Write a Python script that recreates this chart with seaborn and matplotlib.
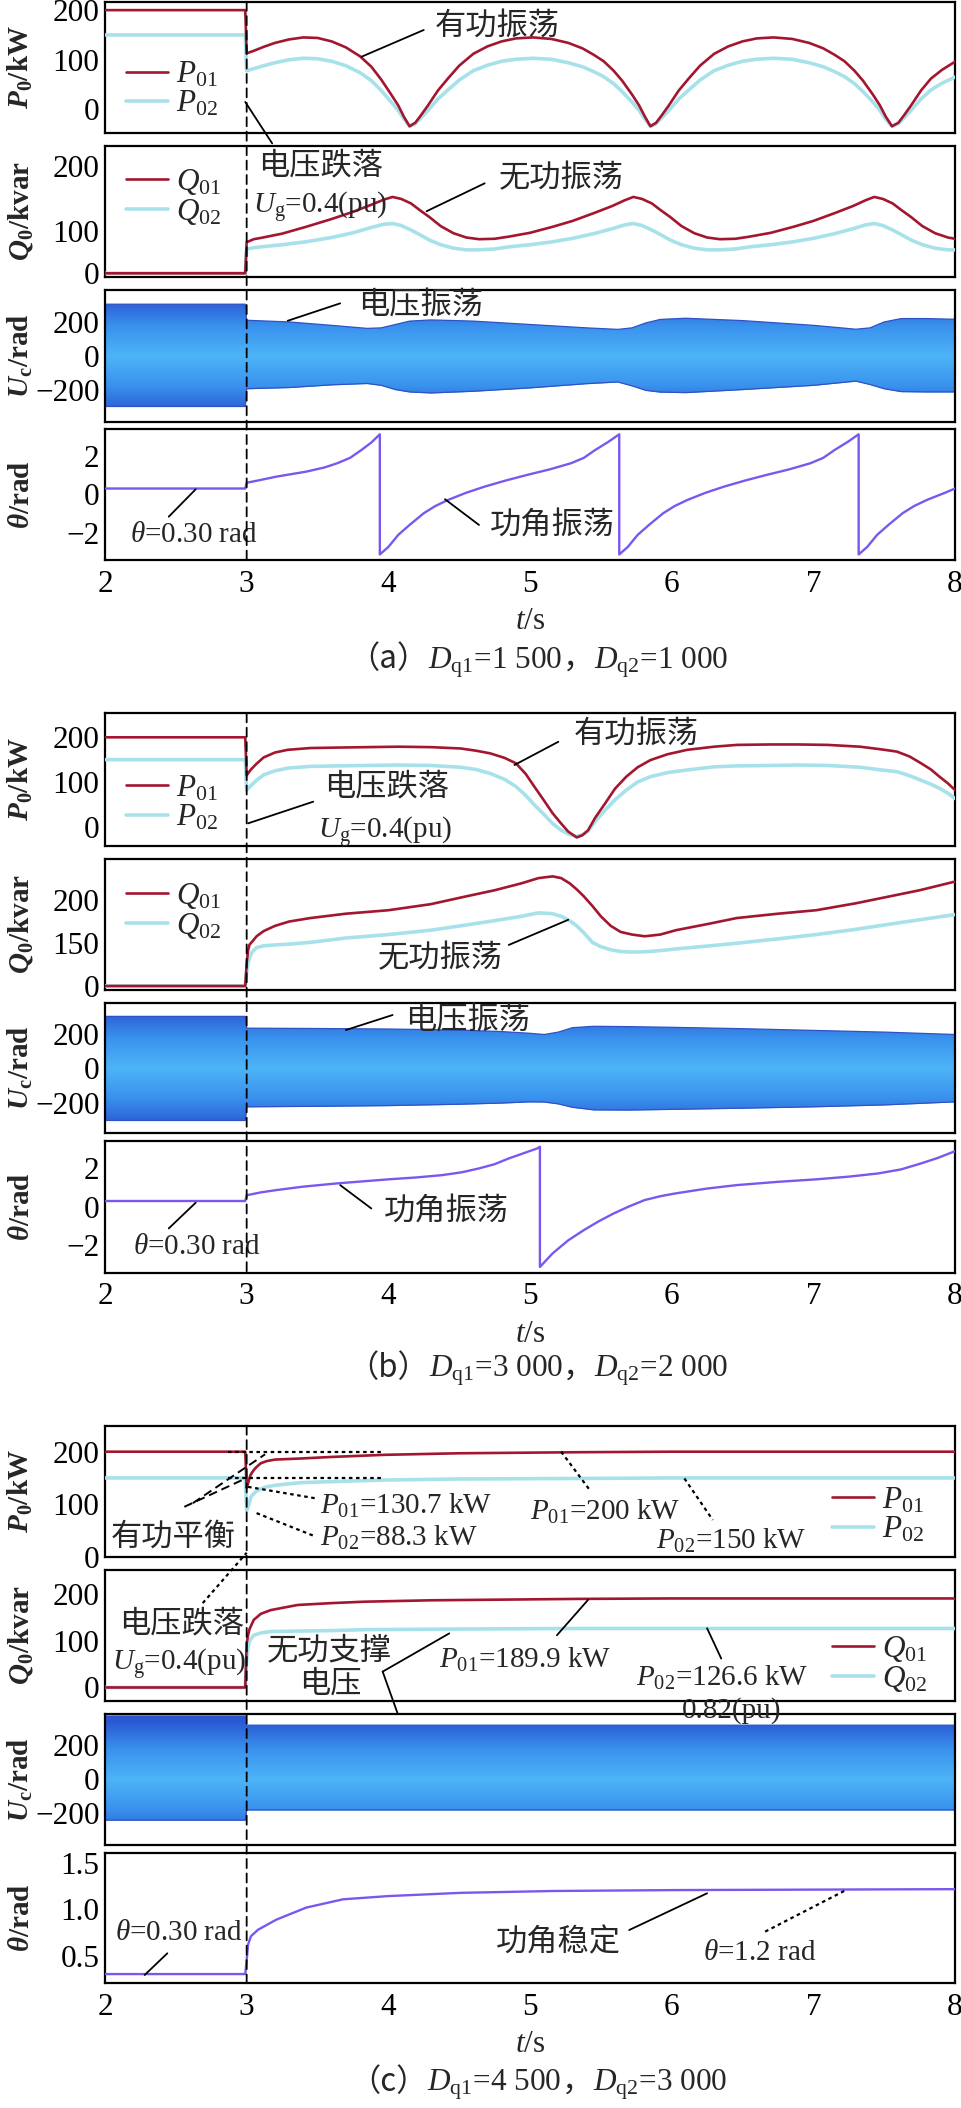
import numpy as np
import matplotlib
matplotlib.use("Agg")
import matplotlib.pyplot as plt
import seaborn as sns
from matplotlib.colors import LinearSegmentedColormap
from matplotlib.patches import ConnectionPatch

# ---------------- values ----------------
T_TICKS = [2, 3, 4, 5, 6, 7, 8]

# (a) Dq1=1 500, Dq2=1 000
a_p_t = [2.0, 2.99, 3.0, 3.05, 3.12, 3.2, 3.3, 3.4, 3.5, 3.6, 3.7, 3.8, 3.88, 3.95, 4.02, 4.07, 4.11, 4.15,
         4.19, 4.23, 4.28, 4.35, 4.42, 4.5, 4.6, 4.7, 4.8, 4.9, 5.02, 5.15, 5.27, 5.37, 5.45, 5.52, 5.59, 5.65,
         5.72, 5.77, 5.81, 5.85, 5.89, 5.93, 5.98, 6.05, 6.12, 6.2, 6.3, 6.4, 6.5, 6.6, 6.72, 6.85, 6.97, 7.07,
         7.15, 7.22, 7.29, 7.35, 7.42, 7.47, 7.51, 7.555, 7.6, 7.64, 7.69, 7.76, 7.83, 7.91, 8.0]
a_p01 = [200, 200, 113, 118, 126, 134, 141, 145, 144, 137, 125, 107, 86, 60, 30, 8, -15, -34,
         -27, -12, 8, 38, 62, 88, 112, 127, 137, 143, 145, 142, 134, 123, 110, 97, 78, 58,
         30, 8, -14, -34, -27, -12, 8, 38, 62, 88, 112, 127, 137, 143, 145, 142, 134, 123,
         110, 97, 78, 58, 30, 8, -14, -34, -27, -12, 8, 38, 62, 80, 96]
a_p02 = [150, 150, 78, 82, 88, 94, 100, 103, 102, 97, 88, 74, 58, 38, 15, -2, -19, -34,
         -29, -17, -2, 21, 39, 59, 78, 89, 97, 101, 103, 101, 94, 86, 76, 66, 52, 36,
         15, -2, -19, -34, -29, -17, -2, 21, 39, 59, 78, 89, 97, 101, 103, 101, 94, 86,
         76, 66, 52, 36, 15, -2, -19, -34, -29, -17, -2, 21, 39, 53, 65]

a_q_t = [2.0, 2.99, 3.0, 3.05, 3.1, 3.25, 3.42, 3.6, 3.75, 3.88, 3.97, 4.03, 4.09, 4.16, 4.22, 4.29, 4.37,
         4.46, 4.55, 4.64, 4.75, 4.85, 5.0, 5.16, 5.3, 5.45, 5.58, 5.67, 5.73, 5.79, 5.86, 5.92, 5.99, 6.07,
         6.16, 6.25, 6.34, 6.45, 6.55, 6.7, 6.86, 7.0, 7.15, 7.28, 7.37, 7.43, 7.49, 7.56, 7.62, 7.69, 7.77,
         7.86, 7.95, 8.0]
a_q01 = [0, 0, 73, 80, 83, 93, 106, 118, 129, 140, 148, 152, 149, 142, 132, 121, 107,
         94, 84, 80, 81, 86, 95, 106, 115, 127, 138, 147, 152, 149, 142, 132, 121, 107,
         94, 84, 80, 81, 86, 95, 106, 115, 127, 138, 147, 152, 149, 142, 132, 121, 107,
         94, 84, 81]
a_q02 = [0, 0, 57, 60, 62, 67, 74, 84, 95, 105, 110, 111, 108, 101, 91, 78, 67,
         59, 55, 55, 57, 62, 67, 74, 82, 93, 103, 109, 111, 108, 101, 91, 78, 67,
         59, 55, 55, 57, 62, 67, 74, 82, 93, 103, 109, 111, 108, 101, 91, 78, 67,
         59, 55, 55]

a_u_t = [2.0, 2.99, 3.0, 3.3, 3.6, 3.85, 3.95, 4.05, 4.15, 4.3, 4.6, 5.0, 5.4, 5.62, 5.72, 5.82, 5.92,
         6.1, 6.5, 7.0, 7.3, 7.4, 7.5, 7.62, 7.8, 8.0]
a_u_hi = [305, 305, 210, 200, 180, 162, 165, 185, 205, 212, 205, 185, 165, 156, 165, 195, 215,
          222, 208, 180, 157, 165, 200, 220, 220, 216]
a_u_lo = [-300, -300, -195, -188, -172, -164, -175, -200, -214, -220, -210, -190, -165, -155, -178, -205,
          -215, -218, -200, -175, -150, -170, -195, -212, -214, -214]

a_th_t = [2.0, 2.99, 3.0, 3.1, 3.21, 3.42, 3.55, 3.64, 3.73, 3.81, 3.88, 3.94, 3.94, 4.0, 4.07, 4.15, 4.25,
          4.33, 4.42, 4.55, 4.68, 4.83, 4.98, 5.14, 5.29, 5.38, 5.46, 5.55, 5.63, 5.63, 5.69, 5.76, 5.84,
          5.94, 6.02, 6.11, 6.24, 6.37, 6.52, 6.67, 6.83, 6.98, 7.07, 7.15, 7.24, 7.32, 7.32, 7.38, 7.45,
          7.53, 7.63, 7.71, 7.8, 7.93, 8.0]
a_th = [0.3, 0.3, 0.6, 0.75, 0.92, 1.18, 1.4, 1.62, 1.9, 2.31, 2.7, 3.13, -3.14, -2.75, -2.12, -1.6, -0.99,
        -0.62, -0.3, 0.08, 0.4, 0.72, 1.01, 1.3, 1.62, 1.9, 2.31, 2.72, 3.13, -3.14, -2.75, -2.12, -1.6,
        -0.99, -0.62, -0.3, 0.08, 0.4, 0.72, 1.01, 1.3, 1.62, 1.9, 2.31, 2.72, 3.13, -3.14, -2.75, -2.12,
        -1.6, -0.99, -0.62, -0.3, 0.08, 0.3]

# (b) Dq1=3 000, Dq2=2 000
b_p_t = [2.0, 2.99, 3.0, 3.03, 3.07, 3.12, 3.2, 3.29, 3.45, 3.64, 3.85, 4.07, 4.3, 4.51, 4.62, 4.72, 4.82,
         4.9, 4.97, 5.03, 5.1, 5.16, 5.22, 5.27, 5.33, 5.37, 5.41, 5.46, 5.53, 5.6, 5.68, 5.76, 5.85, 5.97,
         6.11, 6.3, 6.46, 6.7, 6.89, 7.1, 7.33, 7.48, 7.59, 7.68, 7.76, 7.83, 7.89, 7.95, 8.0]
b_p01 = [200, 200, 115, 128, 141, 155, 166, 172, 176, 177, 178, 179, 178, 175, 170, 164, 154,
         142, 118, 90, 58, 30, 7, -11, -24, -19, -8, 20, 52, 85, 112, 133, 149, 162,
         172, 179, 183, 184, 184, 183, 179, 173, 168, 157, 142, 128, 112, 97, 82]
b_p02 = [150, 150, 82, 92, 104, 116, 125, 131, 135, 136, 137, 138, 137, 133, 128, 119, 106,
         90, 70, 49, 27, 7, -8, -16, -22, -18, -10, 12, 37, 60, 82, 100, 112, 121,
         127, 134, 136, 137, 138, 137, 133, 127, 123, 114, 104, 95, 86, 75, 63]

b_q_t = [2.0, 2.99, 3.0, 3.01, 3.02, 3.04, 3.07, 3.12, 3.2, 3.3, 3.45, 3.7, 4.0, 4.3, 4.55, 4.75, 4.94,
         5.06, 5.16, 5.22, 5.28, 5.33, 5.38, 5.44, 5.5, 5.57, 5.64, 5.72, 5.81, 5.92, 6.03, 6.25, 6.46,
         6.75, 7.02, 7.3, 7.54, 7.75, 8.0]
b_q01 = [0, 0, 80, 125, 145, 152, 158, 164, 170, 175, 179, 184, 188, 195, 204, 211, 219,
         225, 227, 225, 219, 212, 204, 193, 181, 170, 163, 160, 158, 160, 165, 172, 179,
         184, 188, 196, 204, 211, 221]
b_q02 = [0, 0, 50, 80, 100, 120, 135, 141, 144, 147, 151, 156, 160, 165, 171, 176, 181,
         185, 184, 181, 176, 170, 162, 151, 138, 127, 121, 119, 120, 124, 130, 140, 150,
         155, 160, 166, 172, 177, 183]

b_u_t = [2.0, 2.99, 3.0, 3.5, 4.0, 4.5, 4.8, 5.0, 5.1, 5.2, 5.3, 5.45, 5.7, 6.0, 6.5, 7.0, 7.5, 8.0]
b_u_hi = [304, 304, 235, 233, 230, 224, 215, 205, 198, 212, 238, 246, 244, 240, 232, 222, 212, 198]
b_u_lo = [-305, -305, -225, -222, -218, -210, -203, -196, -197, -208, -228, -243, -244, -240, -233, -225,
          -214, -196]

b_th_t = [2.0, 2.99, 3.0, 3.1, 3.21, 3.4, 3.64, 4.0, 4.2, 4.38, 4.52, 4.64, 4.75, 4.85, 4.95, 5.05, 5.07,
          5.07, 5.16, 5.27, 5.38, 5.48, 5.59, 5.7, 5.81, 5.92, 6.03, 6.25, 6.46, 6.75, 7.02, 7.25, 7.46,
          7.62, 7.76, 7.88, 8.0]
b_th = [0.3, 0.3, 0.6, 0.75, 0.87, 1.05, 1.22, 1.43, 1.53, 1.65, 1.8, 2.0, 2.22, 2.52, 2.78, 3.04, 3.13,
        -3.14, -2.43, -1.75, -1.22, -0.78, -0.35, 0.02, 0.35, 0.55, 0.7, 0.95, 1.13, 1.3, 1.43, 1.57, 1.74,
        1.95, 2.26, 2.55, 2.9]

# (c) Dq1=4 500, Dq2=3 000
c_p_t = [2.0, 2.99, 3.0, 3.01, 3.02, 3.03, 3.05, 3.07, 3.1, 3.14, 3.2, 3.38, 3.6, 3.97, 4.5, 5.35, 6.0, 8.0]
c_p01 = [200, 200, 131, 140, 150, 157, 165, 171, 178, 182, 185, 187, 190, 194, 197, 199, 200, 200]
c_p02 = [150, 150, 88, 95, 103, 114, 120, 125, 129, 133, 136, 141, 143, 146, 148, 149, 150, 150]

c_q_t = [2.0, 2.99, 3.0, 3.01, 3.02, 3.05, 3.1, 3.17, 3.36, 3.6, 3.83, 4.3, 5.34, 6.0, 8.0]
c_q01 = [0, 0, 95, 112, 125, 145, 158, 166, 177, 181, 184, 187, 190, 191, 191]
c_q02 = [0, 0, 60, 85, 100, 112, 117, 120, 121, 122, 124, 125, 126.6, 126.6, 126.6]

c_u_t = [2.0, 2.99, 3.0, 8.0]
c_u_hi = [372, 372, 318, 318]
c_u_lo = [-240, -240, -180, -180]

c_th_t = [2.0, 2.99, 3.0, 3.01, 3.03, 3.08, 3.21, 3.42, 3.68, 4.0, 4.51, 5.16, 6.03, 8.0]
c_th = [0.3, 0.3, 0.45, 0.62, 0.71, 0.78, 0.89, 1.02, 1.11, 1.145, 1.18, 1.2, 1.21, 1.22]

# ---------------- style ----------------
sns.set_style("white")
plt.rcParams["font.family"] = ["Liberation Serif", "Noto Sans CJK SC"]
plt.rcParams["mathtext.fontset"] = "custom"
plt.rcParams["mathtext.rm"] = "Liberation Serif"
plt.rcParams["mathtext.it"] = "Liberation Serif:italic"
plt.rcParams["mathtext.bf"] = "Liberation Serif:bold"
plt.rcParams["mathtext.bfit"] = "Liberation Serif:italic:bold"

W, H = 962, 2108
FS = 22.5
FS_NOTE = 21
FS_CJK = 22.5
RED = "#a3162f"
CYAN = "#a7e2ea"
PURPLE = "#7a58ee"
SERIF = "Liberation Serif"
CJK = "Noto Sans CJK SC"
band_cmap = LinearSegmentedColormap.from_list("band", ["#4db4f7", "#3a93ee", "#2a58d4"])

fig = plt.figure(figsize=(W / 100, H / 100), dpi=100)
fig.patch.set_facecolor("white")


def make_ax(top, bottom):
    return fig.add_axes([105 / W, 1 - bottom / H, 850 / W, (bottom - top) / H])


def broken_scale(v_break, lo_slope, hi_slope):
    vk = [-1e4, v_break, 1e4]
    uk = [-1e4 * lo_slope, v_break * lo_slope, v_break * lo_slope + (1e4 - v_break) * hi_slope]
    return (lambda v: np.interp(v, vk, uk)), (lambda u: np.interp(u, uk, vk))


def style_ax(ax, ylim, yticks, ylabel, bottom=False, fmt="{:g}"):
    ax.set_xlim(2, 8)
    ax.set_ylim(*ylim)
    ax.set_xticks(T_TICKS, labels=[str(v) for v in T_TICKS])
    ax.set_yticks(yticks, labels=[fmt.format(v).replace("-", "\u2212") for v in yticks])
    ax.minorticks_off()
    ax.tick_params(direction="in", length=8.5, width=1.3, top=False, right=False,
                   labelsize=FS, colors="black")
    ax.tick_params(axis="y", pad=4)
    ax.tick_params(axis="x", pad=7, labelbottom=bottom)
    for lbl in ax.get_xticklabels() + ax.get_yticklabels():
        lbl.set_family(SERIF)
    for sp in ax.spines.values():
        sp.set_linewidth(1.6)
        sp.set_color("black")
    ax.set_ylabel(ylabel, fontsize=21, fontweight="bold", family=SERIF)
    ax.yaxis.set_label_coords(-0.082, 0.5)
    if bottom:
        ax.set_xlabel("$t$/s", fontsize=FS, labelpad=6, family=SERIF)
    else:
        ax.set_xlabel("")


def draw_pair(ax, t, s1, s2, labels, anchor):
    sns.lineplot(x=t, y=s2, ax=ax, color=CYAN, lw=2.6, sort=False, estimator=None, zorder=3)
    sns.lineplot(x=t, y=s1, ax=ax, color=RED, lw=1.9, sort=False, estimator=None, zorder=4)
    l2, l1 = ax.lines[-2], ax.lines[-1]
    ax.legend([l1, l2], labels, loc="center left", bbox_to_anchor=anchor, frameon=False,
              prop={"family": SERIF, "size": FS}, handlelength=1.35, handletextpad=0.25,
              labelspacing=0.0, borderpad=0, borderaxespad=0)


def draw_band(ax, t, lo, hi):
    poly = ax.fill_between(t, lo, hi, color="#3a8fec", lw=0, zorder=1)
    yy = np.linspace(-400, 400, 256)
    grad = (np.abs(yy) / 400)[:, None]
    img = ax.imshow(grad, extent=(2, 8, -400, 400), origin="lower", aspect="auto",
                    cmap=band_cmap, vmin=0.0, vmax=0.85, zorder=1.5, interpolation="bilinear")
    img.set_clip_path(poly.get_paths()[0], transform=ax.transData)
    sns.lineplot(x=t, y=hi, ax=ax, color="#2f52c4", lw=0.9, sort=False, estimator=None, zorder=2)
    sns.lineplot(x=t, y=lo, ax=ax, color="#2f52c4", lw=0.9, sort=False, estimator=None, zorder=2)


def draw_theta(ax, t, th):
    sns.lineplot(x=t, y=th, ax=ax, color=PURPLE, lw=1.7, sort=False, estimator=None, zorder=3)


def note(ax, t, v, s, size=FS_CJK, ha="center"):
    ax.text(t, v, s, ha=ha, va="center", fontsize=size, clip_on=False, zorder=6)


def leader(ax, t0, v0, t1, v1, ls="-"):
    if ls == ":":
        ls, lw = (0, (1.6, 1.6)), 1.6
    elif ls == "--":
        ls, lw = (0, (4.5, 2.5)), 1.4
    else:
        lw = 1.3
    ax.plot([t0, t1], [v0, v1], color="black", lw=lw, ls=ls, clip_on=False, zorder=6)


def fault_line(ax_top, ax_bot):
    con = ConnectionPatch(xyA=(3, 1), coordsA=ax_top.get_xaxis_transform(),
                          xyB=(3, 0), coordsB=ax_bot.get_xaxis_transform(),
                          color="black", lw=1.3, ls=(0, (5, 3)), zorder=10)
    fig.add_artist(con)


def caption(baseline_px, tag, d1, d2, xc_px=538):
    renderer = fig.canvas.get_renderer()
    y = 1 - baseline_px / H
    parts = [("（" + tag + "）", CJK), ("$D_{\\mathrm{q1}}$=" + d1, SERIF),
             ("，", CJK), ("$D_{\\mathrm{q2}}$=" + d2, SERIF)]
    texts, widths = [], []
    for s, fam in parts:
        tx = fig.text(0, y, s, family=fam, fontsize=FS, va="baseline", ha="left")
        texts.append(tx)
        widths.append(tx.get_window_extent(renderer).width / fig.bbox.width)
    x = xc_px / W - sum(widths) / 2
    for tx, w in zip(texts, widths):
        tx.set_x(x)
        x += w


P_LAB = r"$\mathbfit{P}_{\mathbf{0}}$/kW"
Q_LAB = r"$\mathbfit{Q}_{\mathbf{0}}$/kvar"
U_LAB = r"$\mathbfit{U}_{\mathbf{c}}$/rad"
T_LAB = r"$\mathbfit{θ}$/rad"
P_LEG = ["$P_{\\mathrm{01}}$", "$P_{\\mathrm{02}}$"]
Q_LEG = ["$Q_{\\mathrm{01}}$", "$Q_{\\mathrm{02}}$"]

# ---------------- group (a) ----------------
axP = make_ax(1.7, 132.7)
axQ = make_ax(145.7, 276.7)
axU = make_ax(290, 421.7)
axT = make_ax(429.3, 560)
axQ.set_yscale("function", functions=broken_scale(100, 0.427, 0.65))

draw_pair(axP, a_p_t, a_p01, a_p02, P_LEG, (0.025, 0.33))
draw_pair(axQ, a_q_t, a_q01, a_q02, Q_LEG, (0.025, 0.61))
draw_band(axU, a_u_t, a_u_lo, a_u_hi)
draw_theta(axT, a_th_t, a_th)
style_ax(axP, (-47, 217), [0, 100, 200], P_LAB)
style_ax(axQ, (-8, 231), [0, 100, 200], Q_LAB)
style_ax(axU, (-390, 389), [-200, 0, 200], U_LAB)
style_ax(axT, (-3.43, 3.39), [-2, 0, 2], T_LAB, bottom=True)
fault_line(axP, axT)

note(axP, 4.77, 166, "有功振荡")
leader(axP, 3.81, 106, 4.25, 160)
leader(axP, 2.99, 15, 3.18, -68.5)
note(axQ, 3.52, 198, "电压跌落")
note(axQ, 3.52, 136, "$U_{\\mathrm{g}}$=0.4(pu)", size=FS_NOTE)
note(axQ, 5.22, 178, "无功振荡")
leader(axQ, 4.27, 130, 4.68, 173)
note(axU, 4.23, 290, "电压振荡")
leader(axU, 3.29, 207, 3.66, 310)
note(axT, 2.63, -2.12, "$\\theta$=0.30 rad", size=FS_NOTE)
leader(axT, 2.45, -1.17, 2.64, 0.26)
note(axT, 5.16, -1.69, "功角振荡")
leader(axT, 4.40, -0.26, 4.64, -1.6)
caption(668, "a", "1 500", "1 000")

# ---------------- group (b) ----------------
bxP = make_ax(713.3, 845.7)
bxQ = make_ax(859, 990)
bxU = make_ax(1002.7, 1133.3)
bxT = make_ax(1141, 1272.7)
bxQ.set_yscale("function", functions=broken_scale(150, 0.2847, 0.867))

draw_pair(bxP, b_p_t, b_p01, b_p02, P_LEG, (0.025, 0.32))
draw_pair(bxQ, b_q_t, b_q01, b_q02, Q_LEG, (0.025, 0.605))
draw_band(bxU, b_u_t, b_u_lo, b_u_hi)
draw_theta(bxT, b_th_t, b_th)
style_ax(bxP, (-42.5, 253.7), [0, 100, 200], P_LAB)
style_ax(bxQ, (-14, 247), [0, 150, 200], Q_LAB)
style_ax(bxU, (-380, 384), [-200, 0, 200], U_LAB)
style_ax(bxT, (-3.44, 3.43), [-2, 0, 2], T_LAB, bottom=True)
fault_line(bxP, bxT)

note(bxP, 5.75, 205, "有功振荡")
leader(bxP, 4.89, 138, 5.2, 190)
note(bxP, 3.99, 86, "电压跌落")
note(bxP, 3.98, -12, "$U_{\\mathrm{g}}$=0.4(pu)", size=FS_NOTE)
leader(bxP, 3.01, 7.5, 3.47, 56)
note(bxQ, 4.37, 91, "无功振荡")
leader(bxQ, 4.85, 144, 5.27, 177)
note(bxU, 4.56, 272, "电压振荡")
leader(bxU, 3.70, 224, 4.03, 312)
note(bxT, 2.65, -2.09, "$\\theta$=0.30 rad", size=FS_NOTE)
leader(bxT, 2.45, -1.13, 2.64, 0.21)
note(bxT, 4.41, -0.26, "功角振荡")
leader(bxT, 3.66, 1.13, 3.88, -0.09)
caption(1377, "b", "3 000", "2 000")

# ---------------- group (c) ----------------
cxP = make_ax(1425.7, 1556.7)
cxQ = make_ax(1570, 1701)
cxU = make_ax(1714.3, 1845)
cxT = make_ax(1852.7, 1983.3)

draw_pair(cxP, c_p_t, c_p01, c_p02, P_LEG, (0.855, 0.318))
draw_pair(cxQ, c_q_t, c_q01, c_q02, Q_LEG, (0.855, 0.28))
draw_band(cxU, c_u_t, c_u_lo, c_u_hi)
draw_theta(cxT, c_th_t, c_th)
style_ax(cxP, (0, 249.5), [0, 100, 200], P_LAB)
style_ax(cxQ, (-29, 252), [0, 100, 200], Q_LAB)
style_ax(cxU, (-386, 382), [-200, 0, 200], U_LAB)
style_ax(cxT, (0.2, 1.615), [0.5, 1.0, 1.5], T_LAB, bottom=True, fmt="{:.1f}")
fault_line(cxP, cxT)

leader(cxP, 2.87, 200, 3.96, 200, ":")
leader(cxP, 2.87, 150, 3.96, 150, ":")
leader(cxP, 2.56, 95, 3.0, 150, "--")
leader(cxP, 2.62, 102, 3.13, 195, "--")
note(cxP, 2.48, 35, "有功平衡")
leader(cxP, 3.01, 133, 3.49, 111, ":")
note(cxP, 3.52, 97, "$P_{\\mathrm{01}}$=130.7 kW", size=FS_NOTE, ha="left")
leader(cxP, 3.07, 83, 3.49, 38, ":")
note(cxP, 3.52, 35, "$P_{\\mathrm{02}}$=88.3 kW", size=FS_NOTE, ha="left")
leader(cxP, 5.22, 200, 5.43, 124, ":")
note(cxP, 5.0, 86, "$P_{\\mathrm{01}}$=200 kW", size=FS_NOTE, ha="left")
leader(cxP, 6.09, 149, 6.29, 70, ":")
note(cxP, 5.89, 30, "$P_{\\mathrm{02}}$=150 kW", size=FS_NOTE, ha="left")

note(cxQ, 2.54, 134, "电压跌落")
note(cxQ, 2.52, 50, "$U_{\\mathrm{g}}$=0.4(pu)", size=FS_NOTE)
leader(cxQ, 2.69, 181, 3.0, 289, ":")
note(cxQ, 3.58, 77, "无功支撑")
note(cxQ, 3.59, 5, "电压")
leader(cxQ, 3.96, 34, 4.43, 116)
leader(cxQ, 3.96, 34, 4.1, -85)
note(cxQ, 4.36, 59, "$P_{\\mathrm{01}}$=189.9 kW", size=FS_NOTE, ha="left")
leader(cxQ, 5.19, 112, 5.41, 188)
note(cxQ, 5.75, 21, "$P_{\\mathrm{02}}$=126.6 kW", size=FS_NOTE, ha="left")
leader(cxQ, 6.35, 62, 6.25, 127)
note(cxU, 6.42, 406, "0.82(pu)", size=FS_NOTE)

note(cxT, 2.52, 0.74, "$\\theta$=0.30 rad", size=FS_NOTE)
leader(cxT, 2.28, 0.29, 2.44, 0.525)
note(cxT, 5.2, 0.633, "功角稳定")
leader(cxT, 5.70, 0.777, 6.25, 1.175)
note(cxT, 6.62, 0.525, "$\\theta$=1.2 rad", size=FS_NOTE)
leader(cxT, 6.66, 0.76, 7.23, 1.21, ":")
caption(2091, "c", "4 500", "3 000")

fig.savefig("out.png", dpi=100, facecolor="white")
